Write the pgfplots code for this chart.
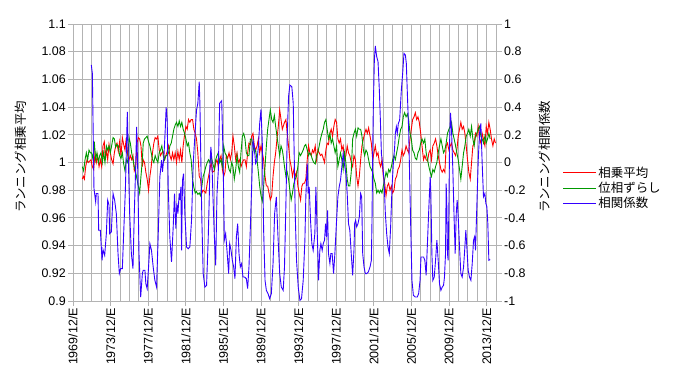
\documentclass[border=0pt]{standalone}
\usepackage{fontspec}
\setmainfont{Liberation Sans}
\newfontfamily\jp{Noto Sans CJK JP}
\usepackage{pgfplots}
\usepackage{pgfplotstable}
\pgfplotsset{compat=1.18}
\definecolor{gridgray}{RGB}{179,179,179}
\definecolor{sred}{RGB}{255,0,0}
\definecolor{sgreen}{RGB}{0,153,0}
\definecolor{sblue}{RGB}{51,0,255}

\pgfplotstableread{
x y
1970.99 0.988
1971.10 0.990
1971.21 0.988
1971.35 0.997
1971.49 1.002
1971.63 1.000
1971.77 1.001
1971.91 1.002
1972.06 0.997
1972.20 0.995
1972.34 1.007
1972.48 1.000
1972.62 1.005
1972.77 0.997
1972.91 1.002
1973.05 0.997
1973.19 1.012
1973.33 1.015
1973.44 1.002
1973.55 1.009
1973.69 1.002
1973.83 1.013
1973.97 1.007
1974.11 1.002
1974.26 0.999
1974.40 1.007
1974.54 1.012
1974.68 1.014
1974.82 1.008
1974.96 1.015
1975.11 1.005
1975.25 1.018
1975.39 1.013
1975.53 1.009
1975.67 1.018
1975.82 1.005
1975.96 1.002
1976.10 1.005
1976.24 1.002
1976.38 1.005
1976.52 0.994
1976.67 0.997
1976.81 1.014
1976.95 1.018
1977.09 1.017
1977.23 1.012
1977.38 0.997
1977.47 1.002
1977.61 1.000
1977.75 0.993
1977.89 0.988
1978.04 0.980
1978.18 0.990
1978.32 0.997
1978.46 1.007
1978.60 1.014
1978.74 1.018
1978.89 1.017
1979.03 1.019
1979.17 1.009
1979.31 1.005
1979.45 1.007
1979.60 1.008
1979.74 1.002
1979.88 1.005
1980.02 1.008
1980.16 1.012
1980.31 1.005
1980.45 1.002
1980.59 1.007
1980.73 1.002
1980.87 1.007
1981.01 1.000
1981.16 1.008
1981.30 1.002
1981.44 1.009
1981.58 1.000
1981.72 1.012
1981.87 1.020
1982.01 1.026
1982.15 1.024
1982.29 1.031
1982.43 1.029
1982.57 1.031
1982.72 1.031
1982.86 1.024
1983.00 1.021
1983.14 1.017
1983.28 1.007
1983.43 0.990
1983.57 0.988
1983.71 0.978
1983.85 0.980
1983.99 0.979
1984.13 0.978
1984.28 0.985
1984.42 0.990
1984.56 0.995
1984.70 1.000
1984.84 0.993
1985.04 0.994
1985.18 1.000
1985.32 1.002
1985.46 0.997
1985.60 1.002
1985.75 1.005
1985.89 0.995
1986.03 0.990
1986.17 0.993
1986.31 1.005
1986.45 1.003
1986.60 1.007
1986.74 1.002
1986.88 1.007
1987.02 1.019
1987.16 1.012
1987.31 1.002
1987.45 1.007
1987.59 1.000
1987.73 1.002
1987.87 0.997
1988.02 1.000
1988.16 1.002
1988.30 1.002
1988.44 0.997
1988.58 1.007
1988.72 1.014
1988.87 1.013
1989.01 1.019
1989.15 1.021
1989.29 1.012
1989.43 1.009
1989.58 1.012
1989.72 1.017
1989.86 1.007
1990.00 1.012
1990.14 1.007
1990.28 1.002
1990.43 0.990
1990.57 0.983
1990.71 0.983
1990.85 0.978
1990.99 0.973
1991.14 0.976
1991.28 0.990
1991.42 1.000
1991.56 1.007
1991.70 1.017
1991.84 1.026
1991.99 1.038
1992.13 1.031
1992.27 1.024
1992.36 1.026
1992.50 1.029
1992.65 1.031
1992.79 1.021
1992.93 1.012
1993.07 1.002
1993.21 0.997
1993.35 0.990
1993.50 0.995
1993.64 0.990
1993.78 0.993
1993.92 0.983
1994.06 0.978
1994.21 0.973
1994.35 0.983
1994.49 0.985
1994.63 0.985
1994.77 0.988
1994.92 1.002
1995.06 1.012
1995.20 1.007
1995.34 1.005
1995.48 1.009
1995.62 1.007
1995.77 1.012
1995.91 1.002
1996.05 1.009
1996.19 1.007
1996.33 1.005
1996.48 1.006
1996.62 1.003
1996.76 1.000
1996.90 1.009
1997.04 1.014
1997.18 1.013
1997.33 1.021
1997.47 1.024
1997.61 1.019
1997.75 1.026
1997.89 1.031
1998.04 1.029
1998.18 1.017
1998.32 1.014
1998.46 1.017
1998.60 1.009
1998.74 1.012
1998.89 1.002
1999.03 1.005
1999.17 1.012
1999.31 1.007
1999.45 1.005
1999.60 1.000
1999.75 0.997
1999.89 1.005
2000.04 1.002
2000.18 0.990
2000.32 0.983
2000.46 0.990
2000.60 1.002
2000.74 1.012
2000.89 1.017
2001.03 1.021
2001.17 1.024
2001.31 1.021
2001.45 1.025
2001.60 1.019
2001.74 1.014
2001.88 1.002
2002.02 1.007
2002.16 1.012
2002.31 1.005
2002.45 1.007
2002.59 1.000
2002.73 0.997
2002.87 1.002
2003.01 0.990
2003.16 0.985
2003.30 0.976
2003.44 0.983
2003.58 0.985
2003.72 0.980
2003.87 0.983
2004.01 0.978
2004.15 0.980
2004.29 0.988
2004.43 0.990
2004.57 0.995
2004.72 0.997
2004.86 1.002
2005.00 1.009
2005.14 1.005
2005.28 1.007
2005.43 1.012
2005.57 1.009
2005.71 1.007
2005.85 1.017
2005.99 1.024
2006.13 1.031
2006.28 1.033
2006.42 1.036
2006.56 1.031
2006.70 1.033
2006.84 1.029
2006.99 1.021
2007.13 1.012
2007.29 1.002
2007.43 1.005
2007.57 1.002
2007.72 1.001
2007.86 1.007
2008.00 1.009
2008.14 1.002
2008.28 1.012
2008.43 1.014
2008.57 1.017
2008.71 1.012
2008.85 1.005
2008.99 1.000
2009.14 0.995
2009.28 0.993
2009.42 0.995
2009.56 0.993
2009.70 1.012
2009.84 1.014
2009.99 1.009
2010.13 1.012
2010.27 1.014
2010.41 1.009
2010.55 1.007
2010.70 1.005
2010.84 1.009
2010.98 1.019
2011.12 1.024
2011.26 1.029
2011.40 1.024
2011.55 1.026
2011.69 1.021
2011.83 1.012
2011.97 1.002
2012.11 0.993
2012.26 0.988
2012.40 1.000
2012.54 1.012
2012.68 1.014
2012.82 1.021
2012.96 1.019
2013.11 1.026
2013.25 1.017
2013.39 1.014
2013.53 1.021
2013.67 1.017
2013.82 1.012
2013.96 1.026
2014.10 1.021
2014.24 1.029
2014.38 1.024
2014.52 1.017
2014.67 1.012
2014.81 1.017
2014.95 1.014
}\redtable

\pgfplotstableread{
x y
1970.99 0.997
1971.13 0.994
1971.28 1.002
1971.42 1.007
1971.56 1.002
1971.70 1.009
1971.84 1.007
1971.99 1.007
1972.13 1.002
1972.27 1.015
1972.41 1.002
1972.55 1.007
1972.70 1.000
1972.84 1.005
1972.98 1.007
1973.12 1.000
1973.26 1.007
1973.40 1.000
1973.55 1.012
1973.69 1.009
1973.83 1.012
1973.97 1.007
1974.11 1.012
1974.26 1.018
1974.40 1.017
1974.54 1.011
1974.68 1.013
1974.82 1.012
1974.96 1.005
1975.11 1.003
1975.25 1.007
1975.39 0.999
1975.53 0.994
1975.67 1.002
1975.82 1.000
1975.96 1.018
1976.10 1.014
1976.24 1.007
1976.38 1.002
1976.52 0.997
1976.67 0.993
1976.81 0.988
1976.95 0.983
1977.09 0.978
1977.23 0.990
1977.38 1.002
1977.47 1.014
1977.61 1.017
1977.75 1.018
1977.89 1.019
1978.04 1.015
1978.18 1.012
1978.32 1.007
1978.46 1.002
1978.60 1.000
1978.74 1.005
1978.89 1.002
1979.03 1.000
1979.17 1.007
1979.31 1.009
1979.45 1.012
1979.60 1.005
1979.74 1.002
1979.88 1.005
1980.02 1.005
1980.16 1.007
1980.31 1.012
1980.45 1.014
1980.59 1.019
1980.73 1.024
1980.87 1.027
1981.01 1.029
1981.16 1.026
1981.30 1.030
1981.44 1.026
1981.58 1.029
1981.72 1.024
1981.87 1.021
1982.01 1.017
1982.15 1.012
1982.29 1.014
1982.43 1.007
1982.57 1.002
1982.72 0.988
1982.86 0.982
1983.00 0.978
1983.14 0.979
1983.28 0.977
1983.43 0.978
1983.57 0.976
1983.71 0.983
1983.85 0.990
1983.99 0.993
1984.13 0.997
1984.28 1.000
1984.42 1.002
1984.56 1.000
1984.70 1.005
1984.84 1.000
1985.04 0.995
1985.18 1.002
1985.32 1.005
1985.46 1.007
1985.60 1.000
1985.75 1.002
1985.89 0.997
1986.03 1.012
1986.17 1.007
1986.31 1.005
1986.45 1.000
1986.60 0.995
1986.74 0.993
1986.88 1.000
1987.02 0.997
1987.16 0.988
1987.31 0.995
1987.45 1.005
1987.59 0.997
1987.73 0.993
1987.87 1.007
1988.02 1.019
1988.16 1.021
1988.30 1.017
1988.44 1.007
1988.58 1.005
1988.72 1.005
1988.87 1.017
1989.01 1.017
1989.15 1.012
1989.29 1.007
1989.43 1.009
1989.58 1.002
1989.72 0.993
1989.86 0.983
1990.00 0.976
1990.14 0.972
1990.28 0.983
1990.43 0.997
1990.57 1.012
1990.71 1.024
1990.85 1.031
1990.99 1.038
1991.14 1.031
1991.28 1.029
1991.42 1.034
1991.56 1.026
1991.70 1.019
1991.84 1.012
1991.99 1.005
1992.13 1.012
1992.27 1.009
1992.36 1.005
1992.50 0.997
1992.65 0.990
1992.79 0.993
1992.93 0.988
1993.07 0.980
1993.21 0.973
1993.35 0.978
1993.50 0.985
1993.64 0.988
1993.78 0.990
1993.92 0.997
1994.06 1.007
1994.21 1.005
1994.35 1.007
1994.49 1.009
1994.63 1.012
1994.77 1.013
1994.92 1.009
1995.06 1.005
1995.20 1.007
1995.34 1.005
1995.48 1.002
1995.62 1.000
1995.77 0.999
1995.91 1.005
1996.05 1.007
1996.19 1.012
1996.33 1.017
1996.48 1.021
1996.62 1.024
1996.76 1.029
1996.90 1.031
1997.04 1.024
1997.18 1.017
1997.33 1.021
1997.47 1.014
1997.61 1.017
1997.75 1.012
1997.89 1.007
1998.04 1.012
1998.18 0.997
1998.32 1.002
1998.46 1.007
1998.60 1.002
1998.74 0.995
1998.89 1.007
1999.03 1.000
1999.17 0.988
1999.31 0.983
1999.45 0.983
1999.60 0.993
1999.75 1.017
1999.89 1.021
2000.04 1.024
2000.18 1.019
2000.32 1.025
2000.46 1.024
2000.60 1.024
2000.74 1.019
2000.89 1.009
2001.03 1.005
2001.17 1.009
2001.31 1.007
2001.45 1.002
2001.60 0.997
2001.74 0.995
2001.88 0.993
2002.02 0.988
2002.16 0.985
2002.31 0.978
2002.45 0.980
2002.59 0.978
2002.73 0.980
2002.87 0.978
2003.01 0.983
2003.16 0.988
2003.30 0.993
2003.44 0.990
2003.58 0.995
2003.72 0.993
2003.87 0.997
2004.01 1.002
2004.15 1.005
2004.29 1.002
2004.43 1.007
2004.57 1.012
2004.72 1.019
2004.86 1.024
2005.00 1.026
2005.14 1.033
2005.28 1.036
2005.43 1.033
2005.57 1.035
2005.71 1.031
2005.85 1.021
2005.99 1.017
2006.13 1.009
2006.28 1.007
2006.42 1.003
2006.56 1.002
2006.70 1.007
2006.84 1.009
2006.99 1.014
2007.13 1.017
2007.29 1.014
2007.43 1.017
2007.57 1.007
2007.72 1.002
2007.86 0.997
2008.00 0.993
2008.14 0.990
2008.28 0.995
2008.43 0.993
2008.57 0.997
2008.71 1.000
2008.85 1.007
2008.99 1.012
2009.14 1.017
2009.28 1.012
2009.42 1.007
2009.56 1.009
2009.70 1.014
2009.84 1.021
2009.99 1.024
2010.13 1.026
2010.27 1.029
2010.41 1.021
2010.55 1.017
2010.70 1.012
2010.84 1.007
2010.98 1.002
2011.12 0.995
2011.26 0.988
2011.40 0.997
2011.55 1.007
2011.69 1.012
2011.83 1.019
2011.97 1.021
2012.11 1.024
2012.26 1.019
2012.40 1.026
2012.54 1.017
2012.68 1.012
2012.82 1.019
2012.96 1.021
2013.11 1.024
2013.25 1.026
2013.39 1.019
2013.53 1.017
2013.67 1.014
2013.82 1.019
2013.96 1.014
2014.10 1.017
2014.24 1.021
2014.38 1.017
}\greentable

\pgfplotstableread{
x y
1971.95 0.704
1972.06 0.643
1972.23 -0.188
1972.41 -0.284
1972.48 -0.224
1972.66 -0.224
1972.73 -0.489
1972.91 -0.489
1973.09 -0.706
1973.19 -0.629
1973.37 -0.670
1973.55 -0.513
1973.69 -0.272
1973.83 -0.308
1973.90 -0.513
1974.08 -0.501
1974.26 -0.224
1974.43 -0.272
1974.61 -0.369
1974.79 -0.658
1974.93 -0.802
1975.07 -0.766
1975.25 -0.766
1975.39 -0.513
1975.57 -0.200
1975.67 0.065
1975.78 0.366
1975.89 0.017
1976.03 -0.369
1976.21 -0.658
1976.38 -0.766
1976.52 -0.369
1976.67 -0.031
1976.77 0.258
1976.88 -0.031
1977.02 -0.658
1977.20 -0.971
1977.38 -0.802
1977.47 -0.778
1977.65 -0.778
1977.75 -0.875
1977.89 -0.911
1978.04 -0.754
1978.18 -0.586
1978.35 -0.634
1978.53 -0.754
1978.71 -0.851
1978.89 -0.899
1979.06 -0.537
1979.24 -0.104
1979.42 0.017
1979.52 -0.067
1979.67 0.041
1979.81 0.234
1979.91 0.398
1980.02 0.306
1980.13 -0.176
1980.30 -0.537
1980.48 -0.718
1980.66 -0.465
1980.80 -0.224
1980.94 -0.477
1981.05 -0.296
1981.16 -0.369
1981.30 -0.224
1981.37 -0.272
1981.48 -0.176
1981.55 -0.634
1981.65 -0.128
1981.76 -0.080
1981.90 -0.369
1982.08 -0.610
1982.26 -0.622
1982.43 -0.610
1982.61 -0.417
1982.79 -0.007
1982.96 0.186
1983.14 0.378
1983.28 0.427
1983.43 0.583
1983.50 0.427
1983.60 0.017
1983.71 -0.417
1983.85 -0.802
1984.03 -0.899
1984.21 -0.887
1984.38 -0.561
1984.49 -0.272
1984.56 -0.031
1984.67 0.113
1984.77 0.017
1984.89 -0.248
1985.04 -0.537
1985.18 -0.742
1985.32 -0.224
1985.46 -0.055
1985.60 0.427
1985.82 0.446
1985.96 0.065
1986.10 -0.561
1986.24 -0.513
1986.38 -0.634
1986.56 -0.802
1986.67 -0.586
1986.81 -0.634
1986.95 -0.706
1987.09 -0.754
1987.23 -0.839
1987.38 -0.537
1987.52 -0.441
1987.66 -0.658
1987.80 -0.754
1987.94 -0.730
1988.08 -0.827
1988.26 -0.827
1988.44 -0.839
1988.58 -0.911
1988.72 -0.754
1988.87 -0.465
1988.97 -0.248
1989.08 -0.007
1989.15 0.161
1989.29 0.113
1989.43 -0.007
1989.58 0.017
1989.72 0.113
1989.86 0.282
1990.00 0.383
1990.14 0.137
1990.28 -0.489
1990.43 -0.851
1990.57 -0.923
1990.75 -0.947
1990.92 -0.983
1991.10 -0.947
1991.28 -0.730
1991.45 -0.369
1991.63 -0.248
1991.81 -0.537
1991.99 -0.802
1992.16 -0.899
1992.36 -0.923
1992.50 -0.754
1992.65 -0.296
1992.79 0.186
1992.93 0.475
1993.07 0.559
1993.28 0.547
1993.43 0.427
1993.53 0.065
1993.64 -0.369
1993.78 -0.706
1993.96 -0.899
1994.14 -0.995
1994.31 -0.983
1994.49 -0.851
1994.67 -0.561
1994.77 -0.248
1994.92 -0.007
1995.02 -0.224
1995.13 -0.176
1995.27 -0.417
1995.41 -0.586
1995.55 -0.634
1995.73 -0.513
1995.84 -0.176
1995.94 -0.417
1996.05 -0.658
1996.12 -0.851
1996.26 -0.634
1996.37 -0.586
1996.51 -0.634
1996.62 -0.586
1996.76 -0.561
1996.87 -0.441
1996.97 -0.537
1997.08 -0.345
1997.18 -0.658
1997.33 -0.730
1997.43 -0.658
1997.57 -0.658
1997.72 -0.802
1997.86 -0.658
1998.04 -0.417
1998.18 -0.248
1998.32 -0.176
1998.46 -0.128
1998.60 -0.031
1998.74 0.065
1998.89 -0.019
1999.03 -0.080
1999.17 -0.224
1999.31 -0.441
1999.45 -0.489
1999.60 -0.658
1999.75 -0.814
1999.89 -0.634
1999.96 -0.441
2000.07 -0.417
2000.18 -0.465
2000.32 -0.441
2000.46 -0.393
2000.60 -0.224
2000.71 -0.248
2000.82 -0.658
2000.96 -0.754
2001.10 -0.802
2001.24 -0.802
2001.42 -0.790
2001.60 -0.754
2001.74 -0.706
2001.81 -0.417
2001.88 0.065
2001.95 0.402
2002.06 0.740
2002.16 0.841
2002.31 0.764
2002.45 0.728
2002.59 0.523
2002.70 0.306
2002.81 0.065
2002.96 -0.031
2003.09 -0.128
2003.23 -0.369
2003.37 -0.513
2003.51 -0.610
2003.65 -0.658
2003.79 -0.465
2003.94 -0.176
2004.08 -0.007
2004.22 0.113
2004.29 0.210
2004.40 0.258
2004.50 0.210
2004.61 0.282
2004.75 0.306
2004.93 0.523
2005.07 0.643
2005.21 0.788
2005.36 0.776
2005.46 0.716
2005.57 0.499
2005.71 0.234
2005.85 -0.224
2005.96 -0.561
2006.06 -0.851
2006.21 -0.959
2006.42 -0.971
2006.63 -0.971
2006.77 -0.947
2006.92 -0.851
2007.02 -0.682
2007.20 -0.682
2007.29 -0.682
2007.43 -0.706
2007.57 -0.814
2007.72 -0.561
2007.86 -0.320
2008.00 -0.104
2008.07 -0.224
2008.18 -0.658
2008.28 -0.851
2008.43 -0.827
2008.57 -0.706
2008.71 -0.561
2008.85 -0.706
2008.99 -0.875
2009.14 -0.923
2009.28 -0.899
2009.42 -0.887
2009.52 -0.827
2009.63 -0.658
2009.70 -0.152
2009.77 -0.320
2009.84 -0.658
2009.91 -0.706
2009.99 -0.320
2010.06 0.137
2010.16 0.359
2010.27 0.234
2010.41 -0.055
2010.55 -0.417
2010.66 -0.658
2010.77 -0.369
2010.87 -0.272
2010.98 -0.393
2011.12 -0.610
2011.26 -0.802
2011.40 -0.827
2011.55 -0.754
2011.69 -0.610
2011.79 -0.489
2011.90 -0.610
2012.04 -0.778
2012.18 -0.827
2012.33 -0.851
2012.47 -0.730
2012.61 -0.561
2012.72 -0.537
2012.82 -0.634
2012.96 -0.320
2013.11 0.017
2013.25 0.210
2013.39 0.282
2013.53 -0.007
2013.67 -0.248
2013.82 -0.224
2013.92 -0.296
2014.03 -0.320
2014.13 -0.441
2014.24 -0.706
2014.38 -0.701
}\bluetable

\tikzset{myfont/.style={font=\fontsize{12.5pt}{15pt}\selectfont}}

\begin{document}
\begin{tikzpicture}
\path[use as bounding box] (0,0) rectangle (680bp,380bp);
\begin{axis}[
  at={(73bp,79bp)}, anchor=south west,
  width=423bp, height=277bp, scale only axis,
  xmin=1970, xmax=2015, ymin=0.9, ymax=1.1,
  xtick={1970,1974,1978,1982,1986,1990,1994,1998,2002,2006,2010,2014},
  xticklabels={1969/12/E,1973/12/E,1977/12/E,1981/12/E,1985/12/E,1989/12/E,1993/12/E,1997/12/E,2001/12/E,2005/12/E,2009/12/E,2013/12/E},
  minor xtick={1971,1972,...,2015},
  ytick={0.9,0.92,0.94,0.96,0.98,1,1.02,1.04,1.06,1.08,1.1},
  yticklabels={0.9,0.92,0.94,0.96,0.98,1,1.02,1.04,1.06,1.08,1.1},
  grid=both,
  major grid style={gridgray, line width=0.8bp},
  minor grid style={gridgray, line width=0.8bp},
  axis line style={gridgray, line width=0.8bp},
  tick style={gridgray, line width=0.8bp},
  tick align=outside, tick pos=left,
  major tick length=5bp, minor tick length=0pt,
  tick label style={myfont, black},
  xticklabel style={rotate=90, anchor=east, inner sep=2bp},
  yticklabel style={inner sep=2bp},
  ylabel={\jp ランニング相乗平均},
  every axis y label/.style={at={(axis description cs:-0.123,0.52)}, rotate=90, anchor=center, myfont},
]
\addplot[sred, line width=0.9bp] table[x=x,y=y] {\redtable};
\addplot[sgreen, line width=0.9bp] table[x=x,y=y] {\greentable};
\end{axis}
\begin{axis}[
  at={(73bp,79bp)}, anchor=south west,
  width=423bp, height=277bp, scale only axis,
  xmin=1970, xmax=2015, ymin=-1, ymax=1,
  axis y line*=right, axis x line=none,
  ytick={-1,-0.8,-0.6,-0.4,-0.2,0,0.2,0.4,0.6,0.8,1},
  yticklabels={-1,-0.8,-0.6,-0.4,-0.2,0,0.2,0.4,0.6,0.8,1},
  axis line style={gridgray, line width=0.8bp},
  tick style={gridgray, line width=0.8bp},
  tick align=outside, major tick length=6bp,
  tick label style={myfont, black},
  yticklabel style={inner sep=2bp},
  ylabel={\jp ランニング相関係数},
  every axis y label/.style={at={(axis description cs:1.116,0.52)}, rotate=90, anchor=center, myfont},
  legend style={draw=none, fill=none, at={(axis description cs:1.158,0.408)}, anchor=west,
    inner sep=0pt, row sep=0.5bp, nodes={inner sep=1.5bp, myfont}},
  legend cell align=left,
  legend image code/.code={\draw[#1] (0bp,0bp) -- (33bp,0bp);},
]
\addlegendimage{sred, line width=0.9bp}
\addlegendentry{\jp 相乗平均}
\addlegendimage{sgreen, line width=0.9bp}
\addlegendentry{\jp 位相ずらし}
\addplot[sblue, line width=0.9bp] table[x=x,y=y] {\bluetable};
\addlegendentry{\jp 相関係数}
\end{axis}
\end{tikzpicture}
\end{document}
